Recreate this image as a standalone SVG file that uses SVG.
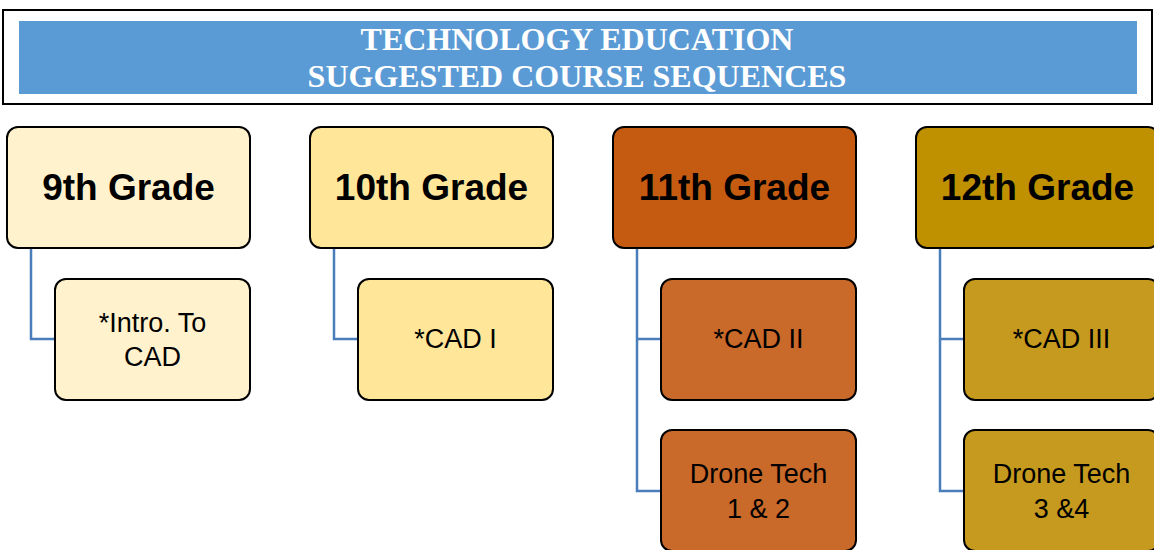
<svg xmlns="http://www.w3.org/2000/svg" width="1154" height="550" viewBox="0 0 1154 550">
<style>
.box{stroke:#000;stroke-width:2}
.grade{font-family:"Liberation Sans",Arial,sans-serif;font-weight:bold;font-size:37px;fill:#000;text-anchor:middle}
.course{font-family:"Liberation Sans",Arial,sans-serif;font-size:27px;fill:#000;text-anchor:middle}
.title{font-family:"Liberation Serif","Times New Roman",serif;font-weight:bold;font-size:32px;fill:#fff;text-anchor:middle}
.conn{fill:none;stroke:#4A7EBB;stroke-width:2.5}
</style>
<rect width="1154" height="550" fill="#fff"/>
<g id="header">
<rect x="3" y="10" width="1149" height="94" fill="#fff" stroke="#000" stroke-width="2"/>
<rect x="19" y="21" width="1118" height="73" fill="#5B9BD5"/>
<text class="title" x="577" y="50">TECHNOLOGY EDUCATION</text>
<text class="title" x="577" y="87">SUGGESTED COURSE SEQUENCES</text>
</g>
<g id="connectors">
<path class="conn" d="M31,248 V339 H55"/>
<path class="conn" d="M334,248 V339 H358"/>
<path class="conn" d="M637,248 V491 H661 M637,339 H661"/>
<path class="conn" d="M940,248 V491 H964 M940,339 H964"/>
</g>
<g id="grade9">
<rect class="box" x="7" y="127" width="243" height="121" rx="11" fill="#FFF2CC"/>
<text class="grade" x="128.5" y="200">9th Grade</text>
</g>
<g id="intro-cad">
<rect class="box" x="55" y="279" width="195" height="121" rx="11" fill="#FFF2CC"/>
<text class="course" x="152.5" y="332">*Intro. To</text>
<text class="course" x="152.5" y="366">CAD</text>
</g>
<g id="grade10">
<rect class="box" x="310" y="127" width="243" height="121" rx="11" fill="#FFE699"/>
<text class="grade" x="431.5" y="200">10th Grade</text>
</g>
<g id="cad1">
<rect class="box" x="358" y="279" width="195" height="121" rx="11" fill="#FFE699"/>
<text class="course" x="455.5" y="348">*CAD I</text>
</g>
<g id="grade11">
<rect class="box" x="613" y="127" width="243" height="121" rx="11" fill="#C55A11"/>
<text class="grade" x="734.5" y="200">11th Grade</text>
</g>
<g id="cad2">
<rect class="box" x="661" y="279" width="195" height="121" rx="11" fill="#C9692A"/>
<text class="course" x="758.5" y="348">*CAD II</text>
</g>
<g id="drone12">
<rect class="box" x="661" y="430" width="195" height="121" rx="11" fill="#C9692A"/>
<text class="course" x="758.5" y="483">Drone Tech</text>
<text class="course" x="758.5" y="518">1 &amp; 2</text>
</g>
<g id="grade12">
<rect class="box" x="916" y="127" width="243" height="121" rx="11" fill="#BF9000"/>
<text class="grade" x="1037.5" y="200">12th Grade</text>
</g>
<g id="cad3">
<rect class="box" x="964" y="279" width="195" height="121" rx="11" fill="#C59A1E"/>
<text class="course" x="1061.5" y="348">*CAD III</text>
</g>
<g id="drone34">
<rect class="box" x="964" y="430" width="195" height="121" rx="11" fill="#C59A1E"/>
<text class="course" x="1061.5" y="483">Drone Tech</text>
<text class="course" x="1061.5" y="518">3 &amp;4</text>
</g>
</svg>
